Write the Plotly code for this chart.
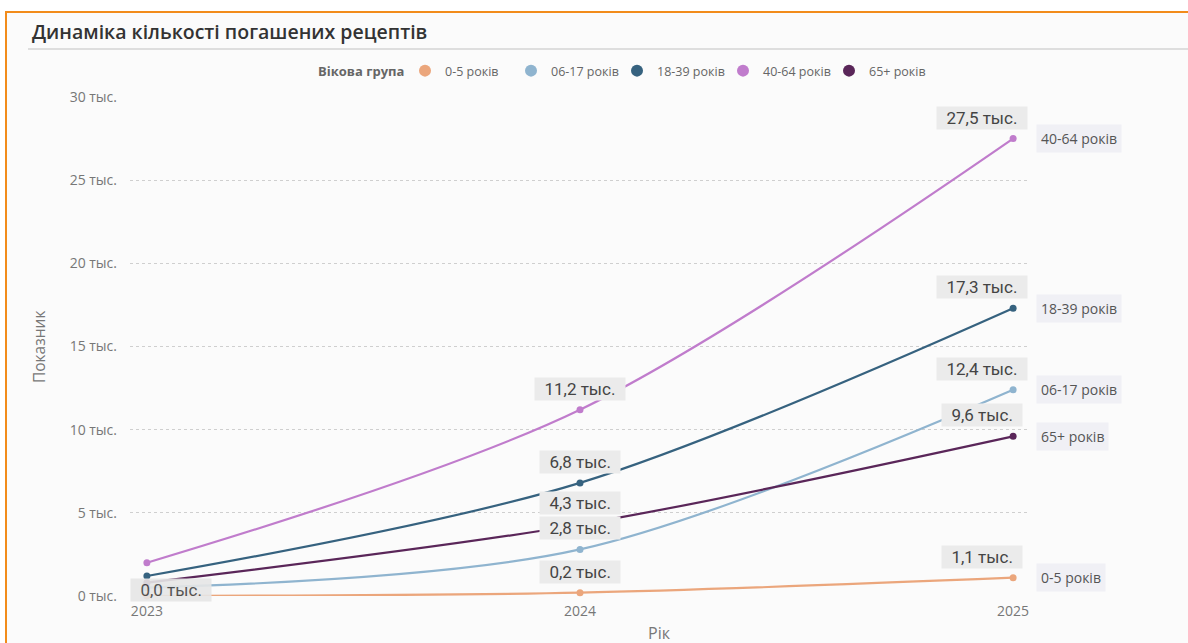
import plotly.graph_objects as go

# ---- data ----
years = [2023, 2024, 2025]
groups = ["0-5 років", "06-17 років", "18-39 років", "40-64 років", "65+ років"]
v_0_5 = [0.0, 0.2, 1.1]
v_06_17 = [0.5, 2.8, 12.4]
v_18_39 = [1.2, 6.8, 17.3]
v_40_64 = [2.0, 11.2, 27.5]
v_65 = [0.8, 4.3, 9.6]
values = [v_0_5, v_06_17, v_18_39, v_40_64, v_65]
colors = ["#EBA67C", "#8FB4CF", "#36627F", "#C07CCC", "#5A2659"]
y_ticks = [0, 5, 10, 15, 20, 25, 30]
y_tick_text = [f"{t} тыс." for t in y_ticks]
labels_2023 = ["0-5 років"]

# ---- layout geometry (pixels) ----
W, H = 1188, 643
ML, MR, MT, MB = 130, 158, 97, 47
PW, PH = W - ML - MR, H - MT - MB


def px_x(px):
    return (px - ML) / PW


def px_y(py):
    return (H - MB - py) / PH


def fmt(v):
    return "&nbsp;&nbsp;" + f"{v:.1f}".replace(".", ",") + " тыс.&nbsp;&nbsp;"


fig = go.Figure()

for name, vals, col in zip(groups, values, colors):
    fig.add_trace(go.Scatter(
        x=years, y=vals, mode="lines", line=dict(color=col, width=2.2, shape="spline", smoothing=0.9),
        showlegend=False, legendgroup=name, hoverinfo="skip", cliponaxis=False))
    fig.add_trace(go.Scatter(
        x=years, y=vals, mode="markers", marker=dict(color=col, size=7), name=name,
        legendgroup=name, cliponaxis=False))

annotations = []
label_font = dict(family="Liberation Sans Narrow, Roboto, Arial Narrow, sans-serif", size=17, color="#444")
for name, vals, col in zip(groups, values, colors):
    annotations.append(dict(x=years[1], y=vals[1], text=fmt(vals[1]), showarrow=False, yshift=21,
                            xanchor="center", yanchor="middle", bgcolor="#ebebeb", borderpad=1, font=label_font))
    annotations.append(dict(x=years[2], y=vals[2], text=fmt(vals[2]), showarrow=False, yshift=21, xshift=-31,
                            xanchor="center", yanchor="middle", bgcolor="#ebebeb", borderpad=1, font=label_font))
    if name in labels_2023:
        annotations.append(dict(x=years[0], y=vals[0], text=fmt(vals[0]), showarrow=False, yshift=6, xshift=24,
                                xanchor="center", yanchor="middle", bgcolor="#e6e6e6", opacity=0.9,
                                borderpad=1, font=label_font))
    annotations.append(dict(x=years[2], y=vals[2], text=name, showarrow=False, xshift=23,
                            xanchor="left", yanchor="middle", bgcolor="#f0f0f5", borderpad=4,
                            font=dict(family="Open Sans, sans-serif", size=14, color="#555")))

# title, legend title and axis titles
annotations.append(dict(xref="paper", yref="paper", x=px_x(30), y=px_y(31), text="Динаміка кількості погашених рецептів",
                        showarrow=False, xanchor="left", yanchor="middle",
                        font=dict(family="Open Sans, sans-serif", size=19.5, color="#333", weight=600)))
annotations.append(dict(xref="paper", yref="paper", x=px_x(406), y=px_y(71), text="<b>Вікова група</b>",
                        showarrow=False, xanchor="right", yanchor="middle",
                        font=dict(family="Open Sans, sans-serif", size=13, color="#666")))
annotations.append(dict(xref="paper", yref="paper", x=px_x(39), y=px_y(347), text="Показник", textangle=-90,
                        showarrow=False, xanchor="center", yanchor="middle",
                        font=dict(family="Open Sans, sans-serif", size=15.5, color="#777")))
annotations.append(dict(xref="paper", yref="paper", x=px_x(659), y=px_y(633), text="Рік",
                        showarrow=False, xanchor="center", yanchor="middle",
                        font=dict(family="Open Sans, sans-serif", size=16, color="#777")))

shapes = [
    dict(type="rect", xref="paper", yref="paper", x0=px_x(6), x1=px_x(1200), y0=px_y(660), y1=px_y(12),
         fillcolor="#fbfbfb", line=dict(color="#F28C1B", width=2), layer="below"),
    dict(type="line", xref="paper", yref="paper", x0=px_x(28), x1=px_x(1200), y0=px_y(49), y1=px_y(49),
         line=dict(color="#d4d4d4", width=1.5), layer="below"),
]

fig.update_layout(
    width=W, height=H,
    margin=dict(l=ML, r=MR, t=MT, b=MB, pad=0),
    paper_bgcolor="white", plot_bgcolor="rgba(0,0,0,0)",
    font=dict(family="Open Sans, sans-serif", color="#777"),
    showlegend=True,
    legend=dict(orientation="h", x=px_x(405), xanchor="left", y=px_y(71), yanchor="middle",
                font=dict(size=12.5, color="#666"), itemsizing="constant", bgcolor="rgba(0,0,0,0)",
                tracegroupgap=0, itemwidth=30, entrywidth=61, entrywidthmode="pixels"),
    xaxis=dict(range=[2022.961, 2025.039], tickvals=years, ticktext=[str(y) for y in years],
               showgrid=False, zeroline=False, showline=False, ticklabelstandoff=5,
               tickfont=dict(size=14, color="#777")),
    yaxis=dict(range=[0, 30], tickvals=y_ticks, ticktext=y_tick_text, showgrid=True,
               gridcolor="#cfcfcf", griddash="dot", gridwidth=1, zeroline=False, showline=False,
               tickfont=dict(size=14, color="#777"), ticklabelstandoff=12),
    annotations=annotations,
    shapes=shapes,
    hovermode="closest",
)

fig.write_html("out.html")
